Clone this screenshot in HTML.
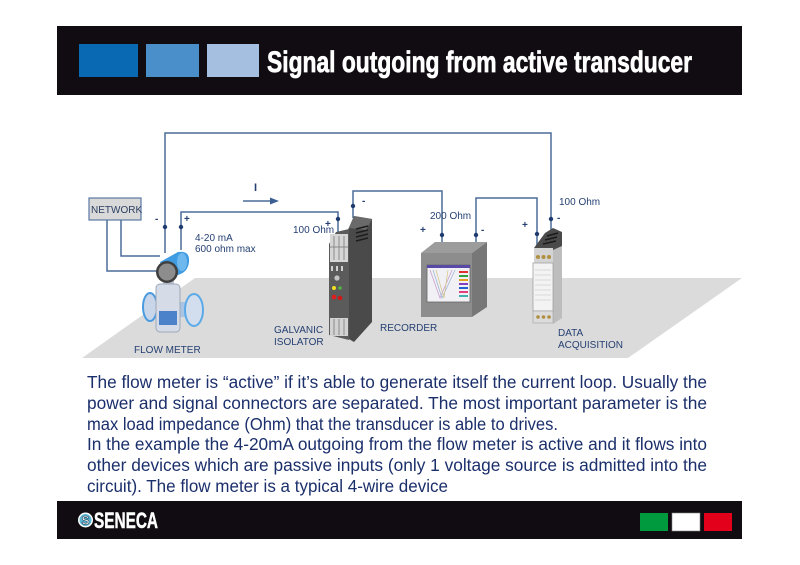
<!DOCTYPE html>
<html>
<head>
<meta charset="utf-8">
<style>
  html,body{margin:0;padding:0;background:#fff;}
  body{width:800px;height:565px;overflow:hidden;position:relative;}
  svg{position:absolute;left:0;top:0;}
</style>
</head>
<body>
<svg width="800" height="565" viewBox="0 0 800 565" xmlns="http://www.w3.org/2000/svg">
  <rect x="0" y="0" width="800" height="565" fill="#ffffff"/>

  <!-- Header -->
  <rect x="57" y="26" width="685" height="69" fill="#100c11"/>
  <rect x="79" y="44" width="59" height="33" fill="#0a69b3"/>
  <rect x="146" y="44" width="53" height="33" fill="#4a8fc9"/>
  <rect x="207" y="44" width="52" height="33" fill="#a5bfe0"/>
  <text x="267" y="72" font-family="Liberation Sans, Arial, sans-serif" font-weight="bold" font-size="30" fill="#ffffff" stroke="#ffffff" stroke-width="0.7" textLength="425" lengthAdjust="spacingAndGlyphs">Signal outgoing from active transducer</text>

  <!-- Floor -->
  <polygon points="195,278 742,278 628,358 82,358" fill="#dbdbdb"/>

  <!-- Wires -->
  <g fill="none" stroke="#4b6b99" stroke-width="1.5">
    <path d="M165,253 V133 H551 V246"/>
    <path d="M181,250 V212 H338 V236"/>
    <path d="M353,218 V191 H442 V243"/>
    <path d="M476,243 V198 H537 V250"/>
    <path d="M107,220 V271 H158"/>
    <path d="M121,220 V256 H160"/>
    <path d="M243,201 H272"/>
  </g>
  <polygon points="270,197.5 279,201 270,204.5" fill="#3b5e93"/>

  <!-- Network box -->
  <rect x="89" y="198" width="52" height="22" fill="#d9d9d9" stroke="#5a78a3" stroke-width="1.2"/>
  <text x="91" y="213" font-family="Liberation Sans, Arial, sans-serif" font-size="10" fill="#2c3f63">NETWORK</text>

  <!-- Flow meter -->
  <g>
    <rect x="150" y="300" width="10" height="14" fill="#aac4e4"/>
    <ellipse cx="150" cy="307" rx="7" ry="14" fill="#c9d6ea" stroke="#4a9be0" stroke-width="2"/>
    <rect x="177" y="302" width="14" height="15" fill="#aac4e4"/>
    <ellipse cx="194" cy="310" rx="9" ry="16" fill="#d2ddee" stroke="#5aaae8" stroke-width="2"/>
    <rect x="163" y="276" width="11" height="10" fill="#bcc5d2"/>
    <rect x="156" y="284" width="24" height="48" rx="4" fill="#d6dce7" stroke="#9ea8b8" stroke-width="1"/>
    <rect x="159" y="311" width="18" height="14" fill="#4b82c9"/>
    <path d="M160,262 L178,252 Q190,250 189,262 Q188,272 178,275 L168,280 Z" fill="#3f9ce2"/>
    <ellipse cx="182" cy="262" rx="5" ry="9" fill="#6fb8ee"/>
    <circle cx="167" cy="272" r="11" fill="#3f3f3f"/>
    <circle cx="167" cy="272" r="8.5" fill="#8d8d8d"/>
  </g>

  <!-- Galvanic isolator -->
  <g>
    <polygon points="347,232 354,216 372,219 372,322 354,342 347,338" fill="#4a4a4a"/>
    <polygon points="354,216 372,219 366,230 349,228" fill="#6a6a6a"/>
    <g stroke="#1e1e1e" stroke-width="1.5">
      <line x1="356" y1="229" x2="368" y2="226"/>
      <line x1="356" y1="233" x2="368" y2="230"/>
      <line x1="356" y1="237" x2="368" y2="234"/>
      <line x1="356" y1="241" x2="368" y2="238"/>
    </g>
    <polygon points="329,244 336,232 349,229 349,340 329,335" fill="#5b5b5b"/>
    <rect x="330" y="234" width="18" height="28" fill="#d6d6d6"/>
    <g stroke="#8a8a8a" stroke-width="1">
      <line x1="334" y1="236" x2="334" y2="260"/>
      <line x1="339" y1="236" x2="339" y2="260"/>
      <line x1="344" y1="236" x2="344" y2="260"/>
      <line x1="330" y1="247" x2="348" y2="247"/>
    </g>
    <g fill="#cfcfcf">
      <rect x="331" y="266" width="2" height="5"/>
      <rect x="336" y="266" width="2" height="5"/>
      <rect x="341" y="266" width="2" height="5"/>
    </g>
    <circle cx="337" cy="278" r="2.6" fill="#c4c4c4"/>
    <circle cx="334" cy="288" r="2" fill="#f2e21e"/>
    <circle cx="340" cy="288" r="1.8" fill="#52b443"/>
    <circle cx="334" cy="297" r="2.3" fill="#e01e1e"/>
    <circle cx="340" cy="298" r="2.3" fill="#d01818"/>
    <rect x="330" y="318" width="18" height="18" fill="#d2d2d2"/>
    <g stroke="#8a8a8a" stroke-width="1">
      <line x1="334" y1="319" x2="334" y2="335"/>
      <line x1="339" y1="319" x2="339" y2="335"/>
      <line x1="344" y1="319" x2="344" y2="335"/>
    </g>
  </g>

  <!-- Recorder -->
  <g>
    <polygon points="421,253 435,242 487,242 472,253" fill="#9c9c9c"/>
    <rect x="421" y="253" width="51" height="64" fill="#8d8d8d"/>
    <polygon points="472,253 487,242 487,307 472,317" fill="#777777"/>
    <rect x="427" y="265" width="43" height="37" fill="#f1f1f5" stroke="#666" stroke-width="0.8"/>
    <rect x="427" y="265" width="43" height="3" fill="#5a4aa8"/>
    <g stroke-width="0.8" fill="none">
      <path d="M430,270 L440,298 L452,270" stroke="#c9a0d0"/>
      <path d="M433,270 L442,298 L455,270" stroke="#a0b8d8"/>
      <path d="M436,270 L444,298 L448,270" stroke="#d8c890"/>
    </g>
    <g>
      <rect x="459" y="271" width="9" height="2" fill="#e03030"/>
      <rect x="459" y="275" width="9" height="2" fill="#30a040"/>
      <rect x="459" y="279" width="9" height="2" fill="#e0a020"/>
      <rect x="459" y="283" width="9" height="2" fill="#8040c0"/>
      <rect x="459" y="287" width="9" height="2" fill="#2060d0"/>
      <rect x="459" y="291" width="9" height="2" fill="#e04080"/>
      <rect x="459" y="295" width="9" height="2" fill="#40b0b0"/>
    </g>
  </g>

  <!-- Data acquisition -->
  <g>
    <polygon points="553,236 562,232 562,318 553,324" fill="#bdbdbd"/>
    <polygon points="534,248 545,233 553,228 562,232 562,246 553,250 553,262 534,262" fill="#4a4a4a"/>
    <g stroke="#1a1a1a" stroke-width="1.6">
      <line x1="547" y1="236" x2="558" y2="233"/>
      <line x1="545" y1="240" x2="557" y2="237"/>
      <line x1="543" y1="244" x2="556" y2="241"/>
    </g>
    <rect x="534" y="248" width="19" height="15" fill="#d4d4d4"/>
    <circle cx="538" cy="257" r="2" fill="#b09040"/>
    <circle cx="543.5" cy="257" r="2" fill="#b09040"/>
    <circle cx="549" cy="257" r="2" fill="#b09040"/>
    <rect x="533" y="263" width="20" height="48" fill="#f3f3f3" stroke="#a0a0a0" stroke-width="0.8"/>
    <g stroke="#c8c8c8" stroke-width="0.6">
      <line x1="535" y1="270" x2="551" y2="270"/>
      <line x1="535" y1="275" x2="551" y2="275"/>
      <line x1="535" y1="280" x2="551" y2="280"/>
      <line x1="535" y1="285" x2="551" y2="285"/>
      <line x1="535" y1="290" x2="551" y2="290"/>
      <line x1="535" y1="295" x2="551" y2="295"/>
      <line x1="535" y1="300" x2="551" y2="300"/>
    </g>
    <rect x="533" y="311" width="20" height="12" fill="#dcdcdc" stroke="#a0a0a0" stroke-width="0.6"/>
    <circle cx="538" cy="317" r="1.8" fill="#b09040"/>
    <circle cx="543.5" cy="317" r="1.8" fill="#b09040"/>
    <circle cx="549" cy="317" r="1.8" fill="#b09040"/>
  </g>

  <!-- Dots -->
  <g fill="#1e3a6e">
    <circle cx="165" cy="227" r="2.2"/>
    <circle cx="181" cy="227" r="2.2"/>
    <circle cx="338" cy="219" r="2.2"/>
    <circle cx="353" cy="206" r="2.2"/>
    <circle cx="442" cy="235" r="2.2"/>
    <circle cx="476" cy="235" r="2.2"/>
    <circle cx="537" cy="234" r="2.2"/>
    <circle cx="551" cy="219" r="2.2"/>
  </g>

  <!-- Labels -->
  <g font-family="Liberation Sans, Arial, sans-serif" font-size="10" fill="#243f72">
    <text x="155" y="222" font-weight="bold">-</text>
    <text x="184" y="222" font-weight="bold">+</text>
    <text x="195" y="241">4-20 mA</text>
    <text x="195" y="252">600 ohm max</text>
    <text x="254" y="191" font-size="11" font-weight="bold">I</text>
    <text x="293" y="233">100 Ohm</text>
    <text x="325" y="227" font-weight="bold">+</text>
    <text x="362" y="204" font-weight="bold">-</text>
    <text x="430" y="219">200 Ohm</text>
    <text x="420" y="233" font-weight="bold">+</text>
    <text x="481" y="233" font-weight="bold">-</text>
    <text x="522" y="228" font-weight="bold">+</text>
    <text x="559" y="205">100 Ohm</text>
    <text x="557" y="221" font-weight="bold">-</text>
    <text x="134" y="353">FLOW METER</text>
    <text x="274" y="333">GALVANIC</text>
    <text x="274" y="345">ISOLATOR</text>
    <text x="380" y="331">RECORDER</text>
    <text x="558" y="336">DATA</text>
    <text x="558" y="348">ACQUISITION</text>
  </g>

  <!-- Body text -->
  <g font-family="Liberation Sans, Arial, sans-serif" font-size="17.4" fill="#1b2f6b">
    <text x="87" y="388" textLength="620" lengthAdjust="spacingAndGlyphs">The flow meter is “active” if it’s able to generate itself the current loop. Usually the</text>
    <text x="87" y="409" textLength="620" lengthAdjust="spacingAndGlyphs">power and signal connectors are separated. The most important parameter is the</text>
    <text x="87" y="430" textLength="471" lengthAdjust="spacingAndGlyphs">max load impedance (Ohm) that the transducer is able to drives.</text>
    <text x="87" y="450" textLength="620" lengthAdjust="spacingAndGlyphs">In the example the 4-20mA outgoing from the flow meter is active and it flows into</text>
    <text x="87" y="471" textLength="620" lengthAdjust="spacingAndGlyphs">other devices which are passive inputs (only 1 voltage source is admitted into the</text>
    <text x="87" y="492" textLength="361" lengthAdjust="spacingAndGlyphs">circuit). The flow meter is a typical 4-wire device</text>
  </g>

  <!-- Footer -->
  <rect x="57" y="501" width="685" height="38" fill="#100c11"/>
  <circle cx="85.5" cy="520" r="7.5" fill="#ffffff"/>
  <circle cx="85.5" cy="520" r="6" fill="#5ab4d2"/>
  <text x="85.5" y="524.5" text-anchor="middle" font-family="Liberation Sans, Arial, sans-serif" font-weight="bold" font-size="12" fill="#ffffff" stroke="#1a3a50" stroke-width="0.6">S</text>
  <text x="94" y="528" font-family="Liberation Sans, Arial, sans-serif" font-weight="bold" font-size="22" fill="#ffffff" stroke="#ffffff" stroke-width="0.5" textLength="64" lengthAdjust="spacingAndGlyphs">SENECA</text>
  <rect x="640" y="513" width="28" height="18" fill="#009a3e"/>
  <rect x="672" y="513" width="28" height="18" fill="#ffffff" stroke="#888" stroke-width="0.6"/>
  <rect x="704" y="513" width="28" height="18" fill="#e3001b"/>
</svg>
</body>
</html>
